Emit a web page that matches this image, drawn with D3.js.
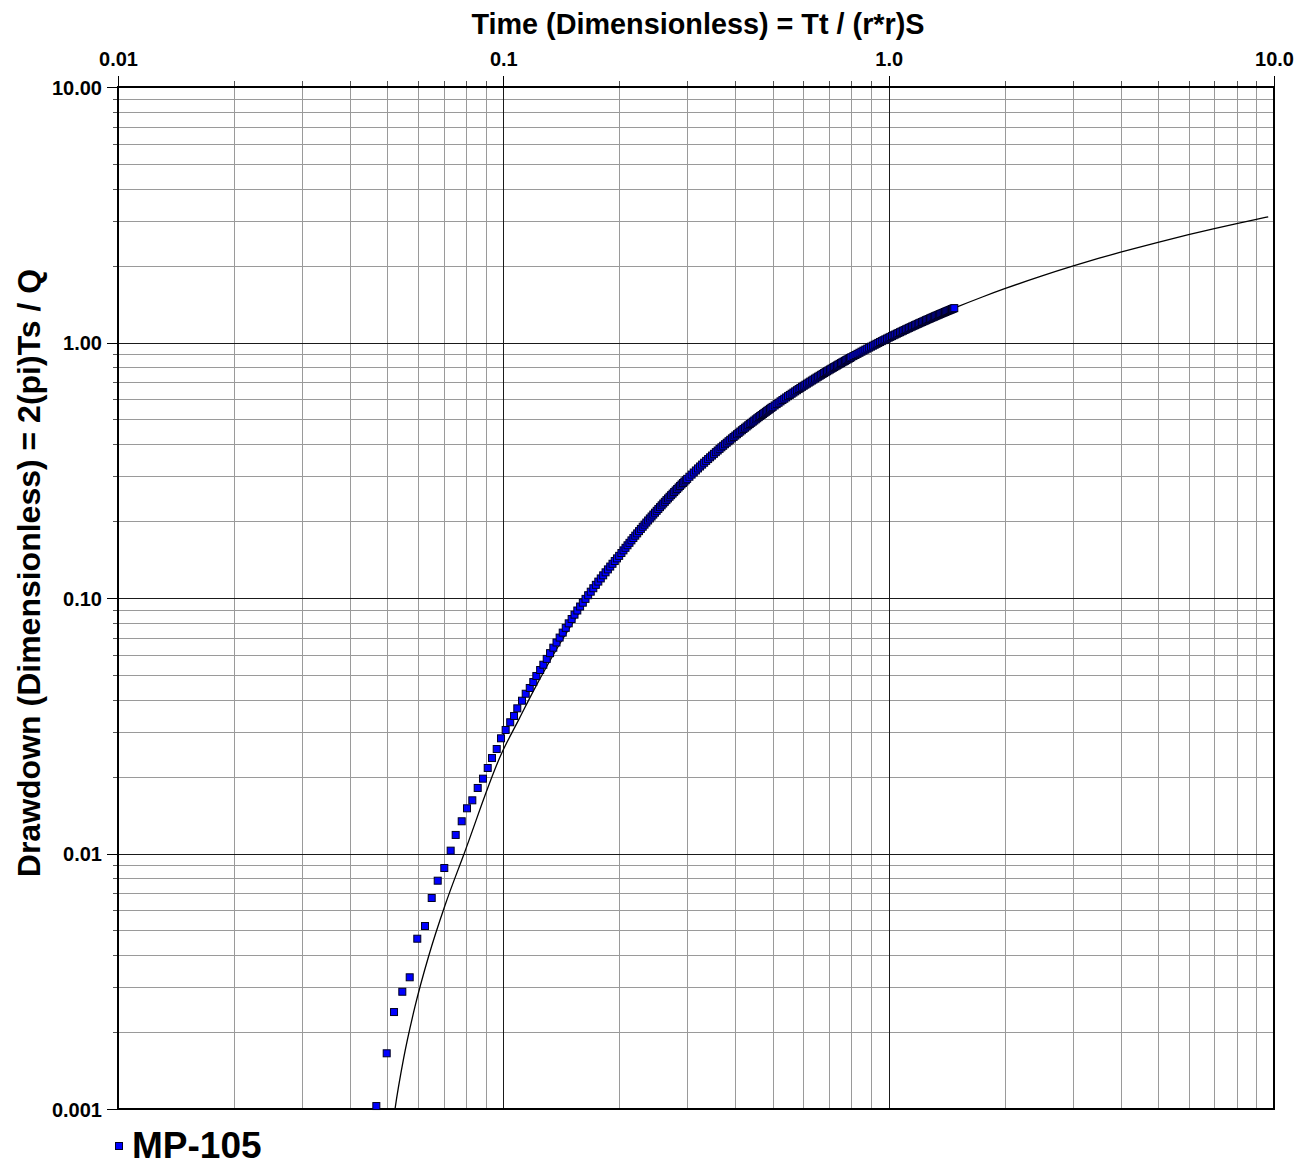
<!DOCTYPE html>
<html>
<head>
<meta charset="utf-8">
<script src="https://cdn.jsdelivr.net/npm/d3@7"></script>
<style>
  html, body { margin: 0; padding: 0; background: #fff; }
  svg { display: block; }
  text { font-family: "Liberation Sans", Arial, Helvetica, sans-serif; font-weight: bold; fill: #000; }
</style>
</head>
<body>
<svg id="chart" width="1308" height="1165"></svg>
<script>
// ---------------- data ----------------
const xTitle = "Time (Dimensionless) = Tt / (r*r)S";
const yTitle = "Drawdown (Dimensionless) = 2(pi)Ts / Q";
const seriesName = "MP-105";

const xMajorTicks = [0.01, 0.1, 1, 10];
const xTickLabels = ["0.01", "0.1", "1.0", "10.0"];
const yMajorTicks = [0.001, 0.01, 0.1, 1, 10];
const yTickLabels = ["0.001", "0.01", "0.10", "1.00", "10.00"];

// Type curve (black line)
const curveX = [0.05129, 0.05235, 0.05514, 0.05895, 0.06402, 0.07062, 0.07906, 0.0990,
  0.11, 0.12, 0.13, 0.14, 0.15, 0.16, 0.17, 0.18, 0.19, 0.20,
  0.22, 0.24, 0.26, 0.28, 0.30, 0.34, 0.38, 0.42, 0.46, 0.50, 0.55, 0.60, 0.65, 0.70, 0.75, 0.80,
  0.90, 1.00, 1.10, 1.20, 1.30, 1.40, 1.50, 1.75, 2.0, 2.5, 3.0, 3.5, 4.0, 5.0, 6.0, 7.0, 8.0, 9.0, 9.66];
const curveY = [0.000795, 0.001, 0.001584, 0.002508, 0.00397, 0.006286, 0.00996, 0.02468,
  0.03371, 0.04361, 0.05442, 0.06604, 0.07834, 0.0912, 0.1045, 0.1182, 0.1322, 0.1465,
  0.1754, 0.2048, 0.2343, 0.2635, 0.2926, 0.3498, 0.4053, 0.4588, 0.5104, 0.5598, 0.6190, 0.6753, 0.7289, 0.7800, 0.8289, 0.8757,
  0.9633, 1.0443, 1.1194, 1.1894, 1.2550, 1.3165, 1.3746, 1.5067, 1.6234, 1.8229, 1.9893, 2.1320, 2.2569, 2.4679, 2.6422, 2.7904, 2.9195, 3.0339, 3.103];

// Observed data MP-105
const obsX = [0.04682, 0.04981, 0.05204, 0.05468, 0.05715, 0.05980, 0.06262, 0.06518, 0.06756, 0.07027,
  0.07300, 0.07522, 0.07798, 0.08048, 0.08308, 0.08580, 0.08855, 0.09109, 0.09346, 0.09612,
  0.09863, 0.1014, 0.1042, 0.1066, 0.1087, 0.1118, 0.1143, 0.1171, 0.1196, 0.1218, 0.1246, 0.1270,
  0.1296, 0.1322, 0.1348, 0.1374, 0.1400, 0.1426, 0.1452, 0.1478, 0.1504, 0.1530, 0.1556, 0.1582,
  0.1608, 0.1634, 0.1660, 0.1686, 0.1712, 0.1738, 0.1764, 0.1790, 0.1816, 0.1842, 0.1868, 0.1894,
  0.1920, 0.1946, 0.1972, 0.1998,
  0.2025, 0.2050, 0.2075, 0.2100, 0.2125, 0.2150, 0.2175, 0.2200, 0.2225, 0.2250, 0.2275, 0.2300,
  0.2325, 0.2350, 0.2375, 0.2400, 0.2425, 0.2450, 0.2475, 0.2500, 0.2525, 0.2550, 0.2575, 0.2600,
  0.2625, 0.2650, 0.2675, 0.2700, 0.2725, 0.2750, 0.2775, 0.2800, 0.2825, 0.2850, 0.2875, 0.2900,
  0.2925, 0.2950, 0.2975, 0.3000,
  0.304, 0.308, 0.312, 0.316, 0.320, 0.324, 0.328, 0.332, 0.336, 0.340, 0.344, 0.348, 0.352, 0.356,
  0.360, 0.364, 0.368, 0.372, 0.376, 0.380, 0.384, 0.388, 0.392, 0.396, 0.400, 0.404, 0.408, 0.412,
  0.416, 0.420, 0.424, 0.428, 0.432, 0.436, 0.440, 0.444, 0.448, 0.452, 0.456, 0.460, 0.464, 0.468,
  0.472, 0.476, 0.480, 0.484, 0.488, 0.492, 0.496, 0.500,
  0.506, 0.512, 0.518, 0.524, 0.530, 0.536, 0.542, 0.548, 0.554, 0.560, 0.566, 0.572, 0.578, 0.584,
  0.590, 0.596, 0.602, 0.608, 0.614, 0.620, 0.626, 0.632, 0.638, 0.644, 0.650, 0.656, 0.662, 0.668,
  0.674, 0.680, 0.686, 0.692, 0.698, 0.704, 0.710, 0.716, 0.722, 0.728, 0.734, 0.740, 0.746, 0.752,
  0.758, 0.764, 0.770, 0.776, 0.782, 0.788, 0.794, 0.800,
  0.81, 0.82, 0.83, 0.84, 0.85, 0.86, 0.87, 0.88, 0.89, 0.90, 0.91, 0.92, 0.93, 0.94, 0.95, 0.96,
  0.97, 0.98, 0.99, 1.00, 1.01, 1.02, 1.03, 1.04, 1.05, 1.06, 1.07, 1.08, 1.09, 1.10, 1.11, 1.12,
  1.13, 1.14, 1.15, 1.16, 1.17, 1.18, 1.19, 1.20, 1.21, 1.22, 1.23, 1.24, 1.25, 1.26, 1.27, 1.28,
  1.29, 1.30, 1.31, 1.32, 1.33, 1.34, 1.35, 1.36, 1.37, 1.38, 1.39, 1.40, 1.41, 1.42, 1.43, 1.44,
  1.45, 1.46, 1.47, 1.48];
const obsY = [0.001027, 0.001652, 0.002396, 0.002877, 0.003277, 0.004640, 0.005202, 0.006696, 0.007826, 0.008774,
  0.01026, 0.01182, 0.01337, 0.01503, 0.01615, 0.01805, 0.01963, 0.02161, 0.02364, 0.02564,
  0.02824, 0.03044, 0.03263, 0.03453, 0.03700, 0.03963, 0.04220, 0.04444, 0.04690, 0.04952, 0.05226, 0.05481,
  0.05776, 0.06084, 0.06391, 0.06697, 0.07000, 0.07321, 0.07641, 0.07958, 0.08276, 0.08606, 0.08934, 0.09261,
  0.09588, 0.09922, 0.10255, 0.10586, 0.10920, 0.11258, 0.11594, 0.11928, 0.12266, 0.12604, 0.12941, 0.13275,
  0.13614, 0.13953, 0.1429, 0.1462,
  0.1500, 0.1536, 0.1572, 0.1608, 0.1644, 0.1681, 0.1717, 0.1754, 0.1790, 0.1827, 0.1864, 0.1901,
  0.1937, 0.1974, 0.2011, 0.2048, 0.2084, 0.2121, 0.2157, 0.2194, 0.2231, 0.2268, 0.2305, 0.2343,
  0.2379, 0.2416, 0.2453, 0.2490, 0.2526, 0.2562, 0.2598, 0.2635, 0.2671, 0.2708, 0.2745, 0.2782,
  0.2818, 0.2855, 0.2890, 0.2926,
  0.2983, 0.3041, 0.3098, 0.3156, 0.3214, 0.3271, 0.3328, 0.3384, 0.3441, 0.3498, 0.3554, 0.3610, 0.3666, 0.3722,
  0.3778, 0.3833, 0.3888, 0.3943, 0.3998, 0.4053, 0.4107, 0.4161, 0.4215, 0.4269, 0.4323, 0.4376, 0.4429, 0.4482,
  0.4535, 0.4588, 0.4640, 0.4692, 0.4744, 0.4796, 0.4848, 0.4899, 0.4950, 0.5002, 0.5053, 0.5104, 0.5154, 0.5203,
  0.5253, 0.5302, 0.5352, 0.5401, 0.5450, 0.5500, 0.5549, 0.5598,
  0.5669, 0.5740, 0.5811, 0.5882, 0.5953, 0.6024, 0.6095, 0.6166, 0.6235, 0.6303, 0.6370, 0.6438, 0.6505, 0.6573,
  0.6640, 0.6708, 0.6773, 0.6839, 0.6903, 0.6967, 0.7031, 0.7096, 0.7160, 0.7225, 0.7289, 0.7350, 0.7411, 0.7473,
  0.7534, 0.7596, 0.7657, 0.7718, 0.7778, 0.7839, 0.7897, 0.7956, 0.8015, 0.8074, 0.8132, 0.8191, 0.8249, 0.8308,
  0.8364, 0.8420, 0.8476, 0.8532, 0.8588, 0.8645, 0.8701, 0.8757,
  0.8847, 0.8937, 0.9027, 0.9116, 0.9206, 0.9291, 0.9377, 0.9462, 0.9548, 0.9633, 0.9716, 0.9799, 0.9882, 0.9964, 1.0047, 1.0126,
  1.0206, 1.0285, 1.0364, 1.0443, 1.0520, 1.0596, 1.0673, 1.0749, 1.0826, 1.0900, 1.0973, 1.1047, 1.1120, 1.1194, 1.1266, 1.1337,
  1.1409, 1.1480, 1.1551, 1.1620, 1.1689, 1.1757, 1.1826, 1.1894, 1.1961, 1.2027, 1.2094, 1.2160, 1.2227, 1.2292, 1.2356, 1.2421,
  1.2485, 1.2550, 1.2612, 1.2675, 1.2737, 1.2800, 1.2862, 1.2923, 1.2983, 1.3044, 1.3104, 1.3165, 1.3224, 1.3283, 1.3342, 1.3401,
  1.3460, 1.3517, 1.3574, 1.3632];

// ---------------- drawing ----------------
const svg = d3.select("#chart");
const W = 1308, H = 1165;
const L = 118, R = 1274, T = 87, B = 1109;

svg.append("rect").attr("width", W).attr("height", H).attr("fill", "#fff");

const x = d3.scaleLog().domain([0.01, 10]).range([L, R]);
const y = d3.scaleLog().domain([0.001, 10]).range([B, T]);

// minor tick values (2..9 within each decade)
const xMinor = [];
for (let i = 0; i < xMajorTicks.length - 1; i++)
  for (let m = 2; m <= 9; m++) xMinor.push(xMajorTicks[i] * m);
const yMinor = [];
for (let i = 0; i < yMajorTicks.length - 1; i++)
  for (let m = 2; m <= 9; m++) yMinor.push(yMajorTicks[i] * m);

// grid via axes
const grid = svg.append("g");
const gxMinor = grid.append("g").attr("transform", `translate(0,${B})`)
  .call(d3.axisBottom(x).tickValues(xMinor).tickSize(-(B - T)).tickFormat(""));
const gyMinor = grid.append("g").attr("transform", `translate(${L},0)`)
  .call(d3.axisLeft(y).tickValues(yMinor).tickSize(-(R - L)).tickFormat(""));
[gxMinor, gyMinor].forEach(g => {
  g.select(".domain").remove();
  g.selectAll("line").attr("stroke", "#9a9a9a").attr("stroke-width", 1).attr("shape-rendering", "crispEdges");
});
const gxMajor = grid.append("g").attr("transform", `translate(0,${B})`)
  .call(d3.axisBottom(x).tickValues(xMajorTicks).tickSize(-(B - T)).tickFormat(""));
const gyMajor = grid.append("g").attr("transform", `translate(${L},0)`)
  .call(d3.axisLeft(y).tickValues(yMajorTicks).tickSize(-(R - L)).tickFormat(""));
[gxMajor, gyMajor].forEach(g => {
  g.select(".domain").remove();
  g.selectAll("line").attr("stroke", "#1a1a1a").attr("stroke-width", 1).attr("shape-rendering", "crispEdges");
});

// outer tick marks
function styleTicks(g, color) {
  g.select(".domain").remove();
  g.selectAll("line").attr("stroke", color).attr("stroke-width", 1).attr("shape-rendering", "crispEdges");
}
styleTicks(svg.append("g").attr("transform", `translate(0,${T})`)
  .call(d3.axisTop(x).tickValues(xMinor).tickSize(6).tickFormat("")), "#555");
styleTicks(svg.append("g").attr("transform", `translate(${L},0)`)
  .call(d3.axisLeft(y).tickValues(yMinor).tickSize(5).tickFormat("")), "#555");

const xAx = svg.append("g").attr("transform", `translate(0,${T})`)
  .call(d3.axisTop(x).tickValues(xMajorTicks).tickSize(11).tickPadding(10)
    .tickFormat((d, i) => xTickLabels[i]));
styleTicks(xAx, "#000");
xAx.selectAll("text").attr("font-size", 20).attr("font-family", null).attr("fill", "#000")
  .attr("dy", "0").attr("y", -21);

const yAx = svg.append("g").attr("transform", `translate(${L},0)`)
  .call(d3.axisLeft(y).tickValues(yMajorTicks).tickSize(11).tickPadding(5)
    .tickFormat((d, i) => yTickLabels[i]));
styleTicks(yAx, "#000");
yAx.selectAll("text").attr("font-size", 20).attr("font-family", null).attr("fill", "#000")
  .attr("dy", "0.37em");

// plot border
svg.append("rect").attr("x", L).attr("y", T).attr("width", R - L).attr("height", B - T)
  .attr("fill", "none").attr("stroke", "#000").attr("stroke-width", 2);

// clip
svg.append("clipPath").attr("id", "clip").append("rect")
  .attr("x", L).attr("y", T - 1).attr("width", R - L).attr("height", B - T + 1);

// type curve
const curvePts = curveX.map((v, i) => [v, curveY[i]]);
svg.append("path").datum(curvePts)
  .attr("clip-path", "url(#clip)")
  .attr("fill", "none").attr("stroke", "#000").attr("stroke-width", 1.3)
  .attr("d", d3.line().x(d => x(d[0])).y(d => y(d[1])).curve(d3.curveMonotoneX));

// observed points
const obs = obsX.map((v, i) => [v, obsY[i]]);
const s = 7;
svg.append("g").selectAll("rect").data(obs).join("rect")
  .attr("x", d => x(d[0]) - s / 2).attr("y", d => y(d[1]) - s / 2)
  .attr("width", s).attr("height", s)
  .attr("fill", "#0000ff").attr("stroke", "#000022").attr("stroke-width", 1);

// titles
svg.append("text").attr("x", 698).attr("y", 34).attr("text-anchor", "middle")
  .attr("font-size", 28.8).text(xTitle);
svg.append("text").attr("transform", "translate(40,573) rotate(-90)")
  .attr("text-anchor", "middle").attr("font-size", 32).text(yTitle);

// legend
svg.append("rect").attr("x", 115.5).attr("y", 1142.5).attr("width", 7).attr("height", 7)
  .attr("fill", "#0000ff").attr("stroke", "#000022").attr("stroke-width", 1);
svg.append("text").attr("x", 132).attr("y", 1158).attr("font-size", 37).text(seriesName);
</script>
</body>
</html>
